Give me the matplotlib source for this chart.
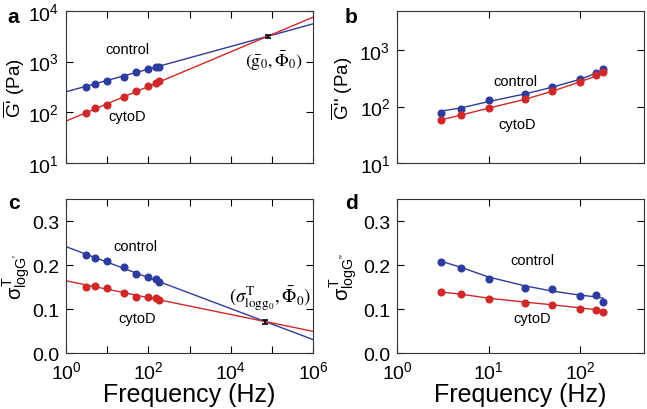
import matplotlib.pyplot as plt

plt.rcParams['font.family'] = ['Liberation Sans', 'DejaVu Sans']
plt.rcParams['mathtext.fontset'] = 'custom'
plt.rcParams['mathtext.rm'] = 'Liberation Sans'
plt.rcParams['mathtext.it'] = 'Liberation Sans'
plt.rcParams['mathtext.bf'] = 'Liberation Sans:bold'

azul = '#2e3b9e'
rojo = '#d02828'

# frecuencias medidas (Hz)
freq = [3, 5, 10, 25, 50, 100, 150, 180]

# panel a: G' (Pa)
gp_control = [309, 360, 405, 508, 618, 718, 785, 795]
gp_cytod = [95, 120, 139, 197, 262, 333, 376, 411]
fit_freq = [1, 1e6]
gp_control_fit = [254, 5560]
gp_cytod_fit = [67, 7520]
punto_g0 = [79000, 3140, 280]   # Phi0, g0, error

# panel b: G'' (Pa)
gpp_control = [76, 90, 129, 170, 225, 304, 398, 469]
gpp_cytod = [57, 70, 93, 135, 186, 272, 357, 415]
gpp_control_fit = [83, 95, 123, 168, 222, 305, 390, 455]
gpp_cytod_fit = [58, 71, 94, 135, 188, 275, 350, 405]

# panel c: sigma logG'
sgp_control = [0.224, 0.217, 0.209, 0.195, 0.181, 0.172, 0.169, 0.161]
sgp_cytod = [0.151, 0.152, 0.148, 0.136, 0.127, 0.127, 0.125, 0.122]
sgp_control_fit = [0.242, 0.031]
sgp_cytod_fit = [0.1645, 0.0497]
punto_s0 = [69000, 0.071, 0.004]

# panel d: sigma logG''
sgpp_control = [0.208, 0.194, 0.168, 0.149, 0.145, 0.130, 0.132, 0.117]
sgpp_cytod = [0.139, 0.134, 0.123, 0.115, 0.110, 0.101, 0.098, 0.094]
sgpp_control_fit = [0.209, 0.195, 0.173, 0.153, 0.141, 0.132, 0.128, 0.125]
sgpp_cytod_fit = [0.139, 0.134, 0.125, 0.116, 0.110, 0.103, 0.099, 0.096]

fig = plt.figure(figsize=(6.47, 4.10), dpi=100)
ax_a = fig.add_axes([0.102, 0.600, 0.382, 0.371])
ax_b = fig.add_axes([0.614, 0.600, 0.381, 0.371])
ax_c = fig.add_axes([0.102, 0.136, 0.382, 0.376])
ax_d = fig.add_axes([0.614, 0.136, 0.381, 0.376])

for ax in [ax_a, ax_b, ax_c, ax_d]:
    ax.set_xscale('log')
    ax.tick_params(which='both', direction='in', top=True, right=True, labelsize=14, length=5, width=0.8, pad=5)
    ax.tick_params(which='minor', length=0)
    for s in ax.spines.values():
        s.set_linewidth(0.8)
        s.set_color('#333333')

ms = 4.8
lw = 1.0

# a
ax_a.plot(fit_freq, gp_control_fit, color=azul, lw=lw)
ax_a.plot(fit_freq, gp_cytod_fit, color=rojo, lw=lw)
ax_a.plot(freq, gp_control, 'o', color=azul, ms=ms)
ax_a.plot(freq, gp_cytod, 'o', color=rojo, ms=ms)
ax_a.errorbar(punto_g0[0], punto_g0[1], yerr=punto_g0[2], color='black', capsize=2, lw=1.2, capthick=1.2)
ax_a.set_yscale('log')
ax_a.set_xlim(1, 1e6)
ax_a.set_ylim(10, 1e4)
ax_a.set_xticks([1, 10, 100, 1e3, 1e4, 1e5, 1e6])
ax_a.set_xticklabels([])
ax_a.set_yticks([10, 100, 1000, 10000])
ax_a.set_ylabel(r"$\overline{\mathrm{G}}$' (Pa)", fontsize=13.5)
ax_a.yaxis.set_label_coords(-0.158, 0.5)
ax_a.text(0.16, 0.72, 'control', transform=ax_a.transAxes, fontsize=10.5)
ax_a.text(0.17, 0.285, 'cytoD', transform=ax_a.transAxes, fontsize=10.5)
ax_a.text(0.725, 0.64, r'$(\bar{\mathrm{g}}_0,\bar{\Phi}_0)$', transform=ax_a.transAxes,
          fontsize=13, math_fontfamily='stix')

# b
ax_b.plot(freq, gpp_control_fit, color=azul, lw=lw)
ax_b.plot(freq, gpp_cytod_fit, color=rojo, lw=lw)
ax_b.plot(freq, gpp_control, 'o', color=azul, ms=ms)
ax_b.plot(freq, gpp_cytod, 'o', color=rojo, ms=ms)
ax_b.set_yscale('log')
ax_b.set_xlim(1, 500)
ax_b.set_ylim(10, 5000)
ax_b.set_xticks([1, 10, 100])
ax_b.set_xticklabels([])
ax_b.set_yticks([10, 100, 1000])
ax_b.set_ylabel(r"$\overline{\mathrm{G}}$'' (Pa)", fontsize=13.5)
ax_b.yaxis.set_label_coords(-0.17, 0.5)
ax_b.text(0.39, 0.51, 'control', transform=ax_b.transAxes, fontsize=10.5)
ax_b.text(0.41, 0.23, 'cytoD', transform=ax_b.transAxes, fontsize=10.5)

# c
ax_c.plot(fit_freq, sgp_control_fit, color=azul, lw=lw)
ax_c.plot(fit_freq, sgp_cytod_fit, color=rojo, lw=lw)
ax_c.plot(freq, sgp_control, 'o', color=azul, ms=ms)
ax_c.plot(freq, sgp_cytod, 'o', color=rojo, ms=ms)
ax_c.errorbar(punto_s0[0], punto_s0[1], yerr=punto_s0[2], color='black', capsize=2, lw=1.2, capthick=1.2)
ax_c.set_xlim(1, 1e6)
ax_c.set_ylim(0, 0.35)
ax_c.set_xticks([1, 10, 100, 1e3, 1e4, 1e5, 1e6])
ax_c.set_xticklabels(['$10^0$', '', '$10^2$', '', '$10^4$', '', '$10^6$'])
ax_c.set_yticks([0, 0.1, 0.2, 0.3])
ax_c.set_yticklabels(['0.0', '0.1', '0.2', '0.3'])
ax_c.set_ylabel(r"$\sigma^{\mathrm{T}}_{\mathrm{logG'}}$", fontsize=14.5)
ax_c.yaxis.set_label_coords(-0.135, 0.5)
ax_c.set_xlabel('Frequency (Hz)', fontsize=18, labelpad=0)
ax_c.text(0.19, 0.67, 'control', transform=ax_c.transAxes, fontsize=10.5)
ax_c.text(0.21, 0.2, 'cytoD', transform=ax_c.transAxes, fontsize=10.5)
ax_c.text(0.66, 0.33, r'$(\sigma^{\mathrm{T}}_{\mathrm{logg_0}},\bar{\Phi}_0)$', transform=ax_c.transAxes,
          fontsize=13.5, math_fontfamily='stix')

# d
ax_d.plot(freq, sgpp_control_fit, color=azul, lw=lw)
ax_d.plot(freq, sgpp_cytod_fit, color=rojo, lw=lw)
ax_d.plot(freq, sgpp_control, 'o', color=azul, ms=ms)
ax_d.plot(freq, sgpp_cytod, 'o', color=rojo, ms=ms)
ax_d.set_xlim(1, 500)
ax_d.set_ylim(0, 0.35)
ax_d.set_xticks([1, 10, 100])
ax_d.set_yticks([0, 0.1, 0.2, 0.3])
ax_d.set_yticklabels(['0.0', '0.1', '0.2', '0.3'])
ax_d.set_ylabel(r"$\sigma^{\mathrm{T}}_{\mathrm{logG''}}$", fontsize=14.5)
ax_d.yaxis.set_label_coords(-0.15, 0.5)
ax_d.set_xlabel('Frequency (Hz)', fontsize=18, labelpad=0)
ax_d.text(0.46, 0.58, 'control', transform=ax_d.transAxes, fontsize=10.5)
ax_d.text(0.47, 0.2, 'cytoD', transform=ax_d.transAxes, fontsize=10.5)

# letras de los paneles
for letra, x, y in [('a', 0.012, 0.945), ('b', 0.533, 0.945), ('c', 0.012, 0.49), ('d', 0.533, 0.49)]:
    fig.text(x, y, letra, fontsize=15, fontweight='bold')

fig.savefig('out.png', dpi=100)
